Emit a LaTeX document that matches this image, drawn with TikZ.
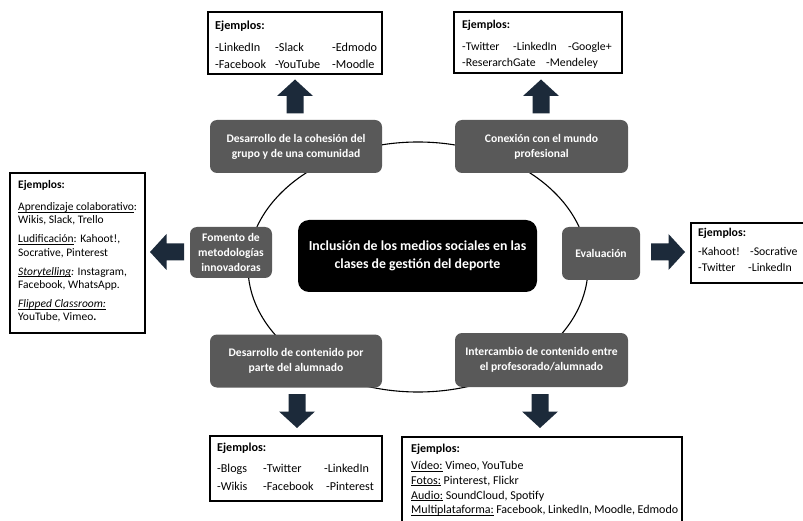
\documentclass[tikz,border=0pt]{standalone}
\usepackage{fontspec}
\setmainfont{Carlito}
\definecolor{nodegray}{RGB}{89,89,89}
\definecolor{arrowcol}{RGB}{28,42,58}
\newcommand\myul[1]{\underline{\smash{#1}}}
\tikzset{
  graynode/.style={fill=nodegray, rounded corners=7pt, text=white, align=center, inner sep=0pt,
    font=\fontsize{11.6}{15}\selectfont\bfseries},
  centernode/.style={fill=black, rounded corners=11pt, text=white, align=center, inner sep=0pt,
    font=\fontsize{13.8}{18.3}\selectfont\bfseries},
  exbox/.style={draw=black, line width=1.4pt, inner sep=0pt},
  extext/.style={anchor=north west, inner sep=0pt, align=left},
  ring/.style={draw=black, line width=1.1pt},
  pics/blockarrow/.style={code={
    \fill[arrowcol] (0,-17) -- (18,-0.5) -- (8.5,-0.5) -- (8.5,17) -- (-8.5,17) -- (-8.5,-0.5) -- (-18,-0.5) -- cycle;}}
}
\begin{document}
\begin{tikzpicture}[x=1pt,y=-1pt]
\useasboundingbox (0,0) rectangle (803,521);

% ring
\draw[ring] (418,267) ellipse [x radius=170, y radius=125];

% centre
\node[centernode, minimum width=239pt, minimum height=72pt] (c) at (417.5,256)
  {Inclusión de los medios sociales en las\\clases de gestión del deporte};

% gray nodes
\node[graynode, minimum width=172pt, minimum height=53pt] (n1) at (296,146.5)
  {Desarrollo de la cohesión del\\grupo y de una comunidad};
\node[graynode, minimum width=173pt, minimum height=53pt] (n2) at (541.5,146.5)
  {Conexión con el mundo\\profesional};
\node[graynode, minimum width=82pt, minimum height=51pt] (n3) at (231,252.5)
  {Fomento de\\metodologías\\innovadoras};
\node[graynode, minimum width=78pt, minimum height=53pt] (n4) at (601,253.5)
  {Evaluación};
\node[graynode, minimum width=172pt, minimum height=53pt] (n5) at (296,361)
  {Desarrollo de contenido por\\parte del alumnado};
\node[graynode, minimum width=173pt, minimum height=54pt] (n6) at (541.5,360)
  {Intercambio de contenido entre\\el profesorado/alumnado};

% block arrows
\pic at (295,96.5) {blockarrow};
\pic at (541,96.5) {blockarrow};
\pic[rotate=90] at (167,252) {blockarrow};
\pic[rotate=-90] at (668,252) {blockarrow};
\pic[rotate=180] at (297,411) {blockarrow};
\pic[rotate=180] at (540,411) {blockarrow};

% example boxes
\node[exbox, minimum width=174pt, minimum height=62pt] (b1) at (295,43) {};
\node[extext, font=\fontsize{12.2}{17.5}\selectfont] (b1t) at (215,20.5)
  {\textbf{Ejemplos:}\\[4.5pt]
   \makebox[60pt][l]{-LinkedIn}\makebox[57pt][l]{-Slack}-Edmodo\\
   \makebox[60pt][l]{-Facebook}\makebox[57pt][l]{-YouTube}-Moodle};

\node[exbox, minimum width=168pt, minimum height=61pt] (b2) at (538,42.5) {};
\node[extext, font=\fontsize{11.8}{16}\selectfont] (b2t) at (462,20.5)
  {\textbf{Ejemplos:}\\[6pt]
   \makebox[51pt][l]{-Twitter}\makebox[55pt][l]{-LinkedIn}-Google+\\
   \makebox[84pt][l]{-ReserarchGate}-Mendeley};

\node[exbox, minimum width=135pt, minimum height=160pt] (b3) at (77.5,253) {};
\node[extext, font=\fontsize{11.5}{13.2}\selectfont] (b3t) at (18,180)
  {\textbf{Ejemplos:}\\[9pt]
   \myul{Aprendizaje colaborativo}:\\
   Wikis, Slack, Trello\\[6pt]
   \myul{Ludificación}: Kahoot!,\\
   Socrative, Pinterest\\[6pt]
   \myul{\textit{Storytelling}}\textit{:} Instagram,\\
   Facebook, WhatsApp.\\[6pt]
   \myul{\textit{Flipped Classroom:}}\\
   YouTube, Vimeo\textbf{.}};

\node[exbox, minimum width=116pt, minimum height=60pt] (b4) at (749,253) {};
\node[extext, font=\fontsize{11.8}{16}\selectfont] (b4t) at (698,228)
  {\textbf{Ejemplos:}\\[3pt]
   \makebox[52pt][l]{-Kahoot!}-Socrative\\
   \makebox[50pt][l]{-Twitter}-LinkedIn};

\node[exbox, minimum width=172pt, minimum height=65pt] (b5) at (296,468.5) {};
\node[extext, font=\fontsize{12.1}{17.4}\selectfont] (b5t) at (217,443)
  {\textbf{Ejemplos:}\\[3.6pt]
   \makebox[46pt][l]{-Blogs}\makebox[61pt][l]{-Twitter}-LinkedIn\\
   \makebox[46pt][l]{-Wikis}\makebox[63pt][l]{-Facebook}-Pinterest};

\node[exbox, minimum width=280pt, minimum height=90pt] (b6) at (542,482) {};
\node[extext, font=\fontsize{12}{14.8}\selectfont] (b6t) at (411,443.5)
  {\textbf{Ejemplos:}\\[2.5pt]
   \myul{Vídeo:} Vimeo, YouTube\\
   \myul{Fotos:} Pinterest, Flickr\\
   \myul{Audio:} SoundCloud, Spotify\\
   \makebox[267pt][s]{\myul{Multiplataforma:} Facebook, LinkedIn, Moodle, Edmodo}};
\end{tikzpicture}
\end{document}
